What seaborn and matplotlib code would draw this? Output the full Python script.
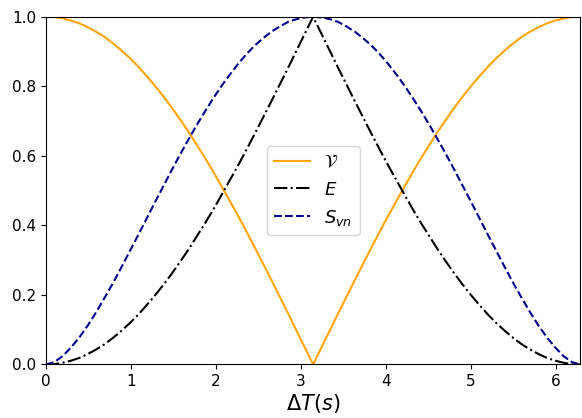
import numpy as np
import pandas as pd
import matplotlib
matplotlib.use("Agg")
import matplotlib.pyplot as plt
import seaborn as sns

# sample grid: 0 .. 2*pi in 65 steps
delta_t = np.linspace(0, 2 * np.pi, 65)

# values (first half, 0 .. pi)
visibility_half = [1.000, 0.999, 0.995, 0.989, 0.981, 0.970, 0.957, 0.942, 0.924,
                   0.904, 0.882, 0.858, 0.831, 0.803, 0.773, 0.741, 0.707, 0.672,
                   0.634, 0.596, 0.556, 0.514, 0.471, 0.428, 0.383, 0.337, 0.290,
                   0.243, 0.195, 0.147, 0.098, 0.049, 0.000]
ent_half = [0.000, 0.001, 0.005, 0.011, 0.019, 0.030, 0.043, 0.058, 0.076,
            0.096, 0.118, 0.142, 0.169, 0.197, 0.227, 0.259, 0.293, 0.328,
            0.366, 0.404, 0.444, 0.486, 0.529, 0.572, 0.617, 0.663, 0.710,
            0.757, 0.805, 0.853, 0.902, 0.951, 1.000]
entropy_half = [0.000, 0.007, 0.024, 0.049, 0.078, 0.112, 0.150, 0.191, 0.233,
                0.278, 0.324, 0.370, 0.417, 0.464, 0.510, 0.556, 0.601, 0.644,
                0.686, 0.726, 0.764, 0.800, 0.833, 0.864, 0.892, 0.917, 0.938,
                0.957, 0.972, 0.985, 0.993, 0.998, 1.000]

# curves are mirror symmetric about pi
visibility = visibility_half + visibility_half[-2::-1]
ent = ent_half + ent_half[-2::-1]
entropy = entropy_half + entropy_half[-2::-1]

df = pd.DataFrame({"t": delta_t, "V": visibility, "E": ent, "S": entropy})

fig, ax = plt.subplots(figsize=(5.82, 4.18), dpi=100)
sns.lineplot(data=df, x="t", y="V", color="orange", lw=1.5, label=r"$\mathcal{V}$", ax=ax)
sns.lineplot(data=df, x="t", y="E", color="black", lw=1.5, linestyle="-.", label=r"$E$", ax=ax)
sns.lineplot(data=df, x="t", y="S", color="darkblue", lw=1.5, linestyle="--", label=r"$S_{vn}$", ax=ax)

ax.set_xlim(0, 2 * np.pi)
ax.set_ylim(0, 1)
ax.set_xlabel(r"$\Delta T(s)$", fontsize=15, labelpad=2)
ax.set_ylabel("")
ax.tick_params(labelsize=11)
ax.legend(loc="center", fontsize=13)

plt.subplots_adjust(left=0.079, right=0.997, top=0.96, bottom=0.128)
plt.savefig("out.png")
